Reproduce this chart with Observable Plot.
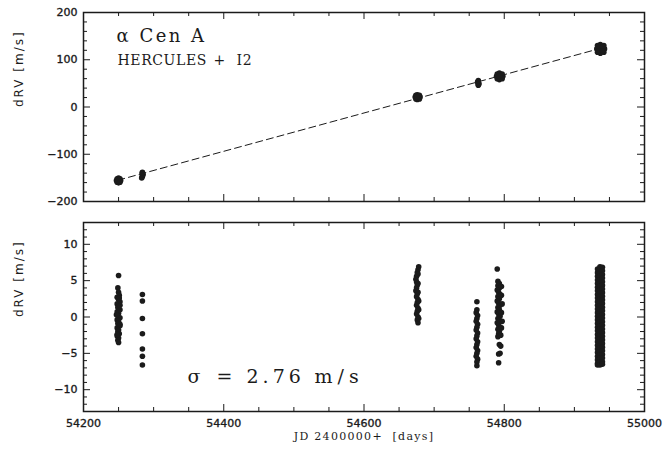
<!DOCTYPE html>
<html><head><meta charset="utf-8">
<script src="https://cdn.jsdelivr.net/npm/d3@7"></script>
<script src="https://cdn.jsdelivr.net/npm/@observablehq/plot@0.6"></script>
<style>
body{margin:0;background:#fff;}
#chart{position:relative;width:666px;height:455px;background:#fff;}
#chart svg{position:absolute;left:0;}
</style></head><body><div id="chart"></div>
<script>
// ---- axis ticks ----
const xMajor = [54200, 54400, 54600, 54800, 55000];
const xMinor = [54250, 54300, 54350, 54450, 54500, 54550, 54650, 54700, 54750, 54850, 54900, 54950];
const topYMajor = [-200, -100, 0, 100, 200];
const topYMinor = [-180, -160, -140, -120, -80, -60, -40, -20, 20, 40, 60, 80, 120, 140, 160, 180];
const botYMajor = [-10, -5, 0, 5, 10];
const botYMinor = [-12, -11, -9, -8, -7, -6, -4, -3, -2, -1, 1, 2, 3, 4, 6, 7, 8, 9, 11, 12];

// ---- texts ----
const starName = "α Cen A";
const instName = "HERCULES";
const instPlus = "+";
const instCell = "I2";
const sigmaSym = "σ";
const sigmaEq = "=";
const sigmaVal = "2.76";
const sigmaUnit = "m/s";
const xLabel = "JD 2400000+\u00a0 [days]";
const yLabel = "dRV [m/s]";

// ---- top panel: dRV (m/s) with trend ----
const topJD = [
  54247, 54253, 54250, 54250, 54248, 54252, 54248, 54252, 54250,
  54284, 54284, 54284, 54284, 54283, 54285, 54284,
  54673, 54680, 54676, 54676, 54674, 54679, 54674, 54679, 54676,
  54763, 54763, 54763, 54762, 54764, 54763, 54763,
  54789, 54798, 54793, 54793, 54790, 54797, 54790, 54797, 54793,
  54932, 54943, 54937, 54937, 54933, 54942, 54933, 54942, 54937, 54935, 54940, 54935, 54940
];
const topRV = [
  -155.5, -155.5, -150.5, -160.5, -152, -152, -159, -159, -155.5,
  -138, -141, -144, -147, -150, -143, -139.5,
  21, 21, 26, 16, 25, 25, 17, 17, 21,
  56, 51, 46, 53, 49, 54, 48,
  65, 65, 72, 58, 70, 70, 60, 60, 65,
  123, 123, 132, 114, 130, 130, 116, 116, 123, 127, 127, 119, 119
];
const trendJD = [54249, 54937];
const trendRV = [-155, 124];

// ---- bottom panel: residuals (m/s) ----
const c1JD = [54250, 54249, 54250, 54251, 54248, 54250, 54252, 54248, 54250, 54249, 54252, 54248, 54250, 54249, 54252, 54248, 54250, 54249, 54252, 54248, 54250, 54249, 54251, 54248, 54250, 54249, 54250, 54252, 54247, 54252, 54248, 54251];
const c1RV = [5.7, 4.0, 3.4, 3.0, 2.7, 2.4, 2.1, 1.8, 1.5, 1.3, 1.0, 0.7, 0.5, 0.2, -0.1, -0.4, -0.6, -0.9, -1.2, -1.5, -1.8, -2.0, -2.3, -2.6, -2.9, -3.2, -3.5, 1.6, 0.3, -1.0, -2.4, 2.6];
const c2JD = [54284, 54284, 54284, 54284, 54284, 54284, 54284];
const c2RV = [3.1, 2.2, -0.2, -2.3, -4.4, -5.4, -6.6];
const c3JD = [54678, 54677, 54676, 54675, 54674, 54675, 54676, 54675, 54674, 54676, 54675, 54677, 54676, 54675, 54677, 54676, 54675, 54677, 54676, 54677, 54677, 54677, 54677, 54678, 54678, 54678];
const c3RV = [6.9, 6.5, 6.1, 5.6, 5.2, 4.8, 4.4, 4.0, 3.6, 3.2, 2.8, 2.4, 2.0, 1.6, 1.2, 0.8, 0.4, 0.0, -0.4, -0.8, 5.9, 4.6, 3.4, 2.2, 1.0, -0.2];
const c4JD = [54761, 54761, 54760, 54762, 54761, 54760, 54762, 54761, 54760, 54762, 54761, 54760, 54762, 54761, 54760, 54762, 54761, 54760, 54762, 54761, 54761];
const c4RV = [2.1, 1.0, 0.6, 0.2, -0.2, -0.6, -1.0, -1.4, -1.8, -2.2, -2.6, -3.0, -3.4, -3.8, -4.2, -4.6, -5.0, -5.4, -5.8, -6.2, -6.7];
const c5JD = [54790, 54791, 54793, 54791, 54793, 54790, 54792, 54794, 54791, 54793, 54790, 54792, 54794, 54791, 54793, 54790, 54792, 54794, 54791, 54793, 54790, 54792, 54794, 54791, 54793, 54792, 54791, 54793, 54792, 54792, 54796, 54796, 54797, 54796, 54797, 54796, 54795, 54795, 54794];
const c5RV = [6.6, 4.9, 4.6, 4.3, 4.0, 3.7, 3.4, 3.1, 2.8, 2.5, 2.2, 1.9, 1.6, 1.3, 1.0, 0.7, 0.4, 0.1, -0.2, -0.5, -0.8, -1.1, -1.4, -1.7, -2.0, -2.3, -2.7, -3.8, -5.1, -6.3, 4.2, 3.0, 1.8, 0.6, -0.6, -1.5, -2.5, -4.0, -5.0];
const c6JDa = 54933, c6JDb = 54936.5, c6JDc = 54940;
const c6RVa = [6.6, 6.1, 5.6, 5.1, 4.6, 4.1, 3.6, 3.1, 2.6, 2.1, 1.6, 1.1, 0.6, 0.1, -0.4, -0.9, -1.4, -1.9, -2.4, -2.9, -3.4, -3.9, -4.4, -4.9, -5.4, -5.9, -6.4, -6.6];
const c6RVb = [6.9, 6.45, 6.0, 5.55, 5.1, 4.65, 4.2, 3.75, 3.3, 2.85, 2.4, 1.95, 1.5, 1.05, 0.6, 0.15, -0.3, -0.75, -1.2, -1.65, -2.1, -2.55, -3.0, -3.45, -3.9, -4.35, -4.8, -5.25, -5.7, -6.15, -6.6];
const c6RVc = [6.85, 6.35, 5.85, 5.35, 4.85, 4.35, 3.85, 3.35, 2.85, 2.35, 1.85, 1.35, 0.85, 0.35, -0.15, -0.65, -1.15, -1.65, -2.15, -2.65, -3.15, -3.65, -4.15, -4.65, -5.15, -5.65, -6.15, -6.5];

// ---- build tables ----
const topPts = topJD.map((jd, i) => ({jd, rv: topRV[i]}));
const trend = trendJD.map((jd, i) => ({jd, rv: trendRV[i]}));
const residuals = [
  ...c1JD.map((jd, i) => ({jd, rv: c1RV[i]})),
  ...c2JD.map((jd, i) => ({jd, rv: c2RV[i]})),
  ...c3JD.map((jd, i) => ({jd, rv: c3RV[i]})),
  ...c4JD.map((jd, i) => ({jd, rv: c4RV[i]})),
  ...c5JD.map((jd, i) => ({jd, rv: c5RV[i]})),
  ...c6RVa.map(rv => ({jd: c6JDa, rv})),
  ...c6RVb.map(rv => ({jd: c6JDb, rv})),
  ...c6RVc.map(rv => ({jd: c6JDc, rv}))
];

const INK = "#1b1b1b";
const W = 666, ML = 83, MR = 22, MT = 12;
const innerW = W - ML - MR;   // 561
const innerH = 189;
const DOT_R = 2.8;

function frameMarks(yMajor, yMinor) {
  const t = {stroke: INK, strokeWidth: 1};
  return [
    Plot.tickX(xMajor, {...t, x: d => d, insetTop: innerH - 7}),
    Plot.tickX(xMajor, {...t, x: d => d, insetBottom: innerH - 7}),
    Plot.tickX(xMinor, {...t, x: d => d, insetTop: innerH - 4}),
    Plot.tickX(xMinor, {...t, x: d => d, insetBottom: innerH - 4}),
    Plot.tickY(yMajor, {...t, y: d => d, insetRight: innerW - 7}),
    Plot.tickY(yMajor, {...t, y: d => d, insetLeft: innerW - 7}),
    Plot.tickY(yMinor, {...t, y: d => d, insetRight: innerW - 4}),
    Plot.tickY(yMinor, {...t, y: d => d, insetLeft: innerW - 4}),
    Plot.frame({stroke: INK, strokeWidth: 1.5}),
    Plot.axisY(yMajor, {anchor: "left", tickSize: 0, tickPadding: 6, label: null, fill: INK, textStroke: INK, textStrokeWidth: 0.35, tickFormat: d => d3.format("d")(d).replace("-", "\u2212")}),
    Plot.text([yLabel], {frameAnchor: "left", rotate: -90, dx: -64, fontSize: 12, fontFamily: "DejaVu Sans", fill: INK})
  ];
}

const common = {
  width: W, marginLeft: ML, marginRight: MR, marginTop: MT,
  style: {fontFamily: "DejaVu Sans", fontSize: "11px", color: INK, background: "white", overflow: "visible"}
};

const serifText = {lineAnchor: "top", textAnchor: "start", fontFamily: "DejaVu Serif", fill: INK};
const sigmaStyle = {frameAnchor: "bottom-left", dy: -29, lineAnchor: "bottom", textAnchor: "start", fontSize: 19, fontFamily: "DejaVu Serif", fill: INK};

const topPlot = Plot.plot({
  ...common,
  height: 210, marginBottom: 9,
  x: {domain: [54200, 55000], axis: null},
  y: {domain: [-200, 200]},
  marks: [
    ...frameMarks(topYMajor, topYMinor),
    Plot.line(trend, {x: "jd", y: "rv", stroke: INK, strokeWidth: 1, strokeDasharray: "7,4"}),
    Plot.dot(topPts, {x: "jd", y: "rv", r: DOT_R, fill: INK, stroke: "none"}),
    Plot.text([starName], {...serifText, frameAnchor: "top-left", dx: 33, dy: 17, fontSize: 18}),
    Plot.text([instName], {...serifText, frameAnchor: "top-left", dx: 34, dy: 43, fontSize: 14}),
    Plot.text([instPlus], {...serifText, frameAnchor: "top-left", dx: 130, dy: 43, fontSize: 14}),
    Plot.text([instCell], {...serifText, frameAnchor: "top-left", dx: 153, dy: 43, fontSize: 14})
  ]
});

const botPlot = Plot.plot({
  ...common,
  height: 245, marginBottom: 44,
  x: {domain: [54200, 55000]},
  y: {domain: [-13, 13]},
  marks: [
    ...frameMarks(botYMajor, botYMinor),
    Plot.axisX(xMajor, {anchor: "bottom", tickSize: 0, tickPadding: 8, label: null, fill: INK, textStroke: INK, textStrokeWidth: 0.35, tickFormat: d => String(d)}),
    Plot.dot(residuals, {x: "jd", y: "rv", r: DOT_R, fill: INK, stroke: "none"}),
    Plot.text([sigmaSym], {...sigmaStyle, dx: 104}),
    Plot.text([sigmaEq], {...sigmaStyle, dx: 133}),
    Plot.text([sigmaVal], {...sigmaStyle, dx: 163}),
    Plot.text([sigmaUnit], {...sigmaStyle, dx: 231}),
    Plot.text([xLabel], {frameAnchor: "bottom", dy: 21, lineAnchor: "top", fontSize: 11, fontFamily: "DejaVu Serif", fill: INK})
  ]
});

// letter spacing of the wide plotter-style lettering
function spacing(svg, txt, ls) {
  d3.select(svg).selectAll("text")
    .filter(function() { return this.textContent === txt; })
    .style("letter-spacing", ls);
}
spacing(topPlot, starName, "2.5px");
spacing(topPlot, instName, "0.6px");
spacing(topPlot, instCell, "0.6px");
spacing(topPlot, yLabel, "2px");
spacing(botPlot, yLabel, "2px");
spacing(botPlot, sigmaVal, "4px");
spacing(botPlot, sigmaUnit, "5px");
spacing(botPlot, xLabel, "1.3px");

const root = document.getElementById("chart");
topPlot.style.top = "0px";
botPlot.style.top = "210px";
root.appendChild(topPlot);
root.appendChild(botPlot);
</script></body></html>
